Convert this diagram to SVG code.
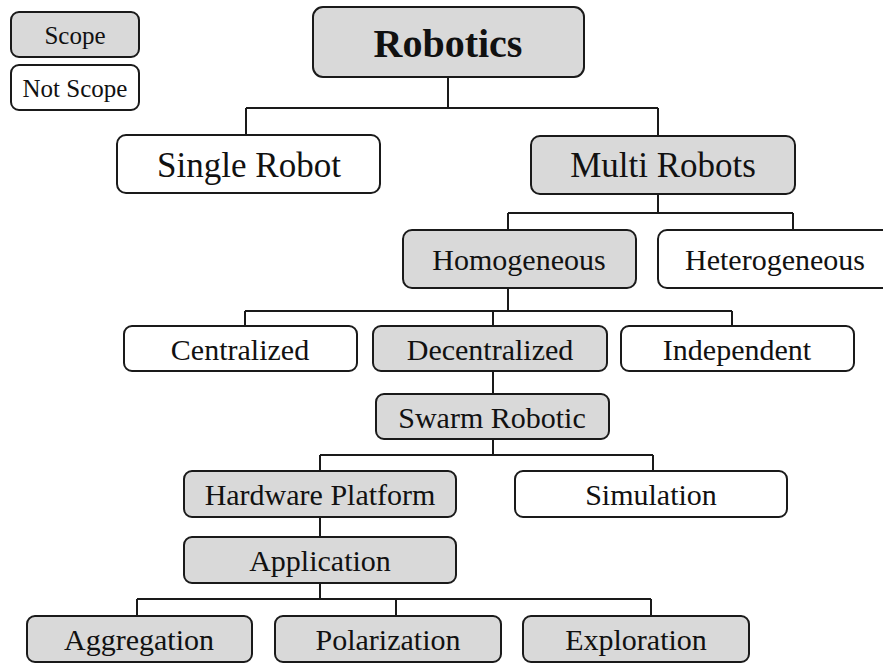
<svg xmlns="http://www.w3.org/2000/svg" width="883" height="664" viewBox="0 0 883 664">
<style>
.box{stroke:#1a1a1a;stroke-width:2}
.s{fill:#d9d9d9}
.n{fill:#ffffff}
text{font-family:"Liberation Serif","Times New Roman",serif;fill:#111;text-anchor:middle}
.t24{font-size:25px}
.t29{font-size:30px}
.t34{font-size:35px}
.t39{font-size:40px;font-weight:bold}
#connectors path{fill:none;stroke:#1a1a1a;stroke-width:2}
</style>
<rect width="883" height="664" fill="#ffffff"/>
<g id="connectors">
<path d="M448 77V108M246 108H658M246 108V135M658 108V136"/>
<path d="M658 194V213M508 213H793M508 213V230M793 213V230"/>
<path d="M508 288V311M245 311H732M245 311V326M493 311V326M732 311V326"/>
<path d="M493 371V394"/>
<path d="M493 439V455M320 455H653M320 455V471M653 455V471"/>
<path d="M320 517V537"/>
<path d="M320 583V599M137 599H651M137 599V616M396 599V616M651 599V616"/>
</g>
<g id="legend-scope"><rect class="box s" x="11" y="12" width="128" height="45" rx="8"/><text class="t24" x="75" y="44">Scope</text></g>
<g id="legend-notscope"><rect class="box n" x="11" y="65" width="128" height="45" rx="8"/><text class="t24" x="75" y="97">Not Scope</text></g>
<g id="robotics"><rect class="box s" x="313" y="7" width="271" height="70" rx="10"/><text class="t39" x="448" y="57">Robotics</text></g>
<g id="single"><rect class="box n" x="117" y="135" width="263" height="58" rx="9"/><text class="t34" x="249" y="177">Single Robot</text></g>
<g id="multi"><rect class="box s" x="531" y="136" width="264" height="58" rx="9"/><text class="t34" x="663" y="177">Multi Robots</text></g>
<g id="homogeneous"><rect class="box s" x="403" y="230" width="233" height="58" rx="9"/><text class="t29" x="519" y="270">Homogeneous</text></g>
<g id="heterogeneous"><rect class="box n" x="658" y="230" width="234" height="58" rx="9"/><text class="t29" x="775" y="270">Heterogeneous</text></g>
<g id="centralized"><rect class="box n" x="124" y="326" width="233" height="45" rx="8"/><text class="t29" x="240" y="360">Centralized</text></g>
<g id="decentralized"><rect class="box s" x="373" y="326" width="234" height="45" rx="8"/><text class="t29" x="490" y="360">Decentralized</text></g>
<g id="independent"><rect class="box n" x="621" y="326" width="233" height="45" rx="8"/><text class="t29" x="737" y="360">Independent</text></g>
<g id="swarm"><rect class="box s" x="376" y="394" width="233" height="45" rx="8"/><text class="t29" x="492" y="428">Swarm Robotic</text></g>
<g id="hardware"><rect class="box s" x="184" y="471" width="272" height="46" rx="8"/><text class="t29" x="320" y="505">Hardware Platform</text></g>
<g id="simulation"><rect class="box n" x="515" y="471" width="272" height="46" rx="8"/><text class="t29" x="651" y="505">Simulation</text></g>
<g id="application"><rect class="box s" x="184" y="537" width="272" height="46" rx="8"/><text class="t29" x="320" y="571">Application</text></g>
<g id="aggregation"><rect class="box s" x="27" y="616" width="225" height="46" rx="8"/><text class="t29" x="139" y="650">Aggregation</text></g>
<g id="polarization"><rect class="box s" x="275" y="616" width="226" height="46" rx="8"/><text class="t29" x="388" y="650">Polarization</text></g>
<g id="exploration"><rect class="box s" x="523" y="616" width="226" height="46" rx="8"/><text class="t29" x="636" y="650">Exploration</text></g>
</svg>
